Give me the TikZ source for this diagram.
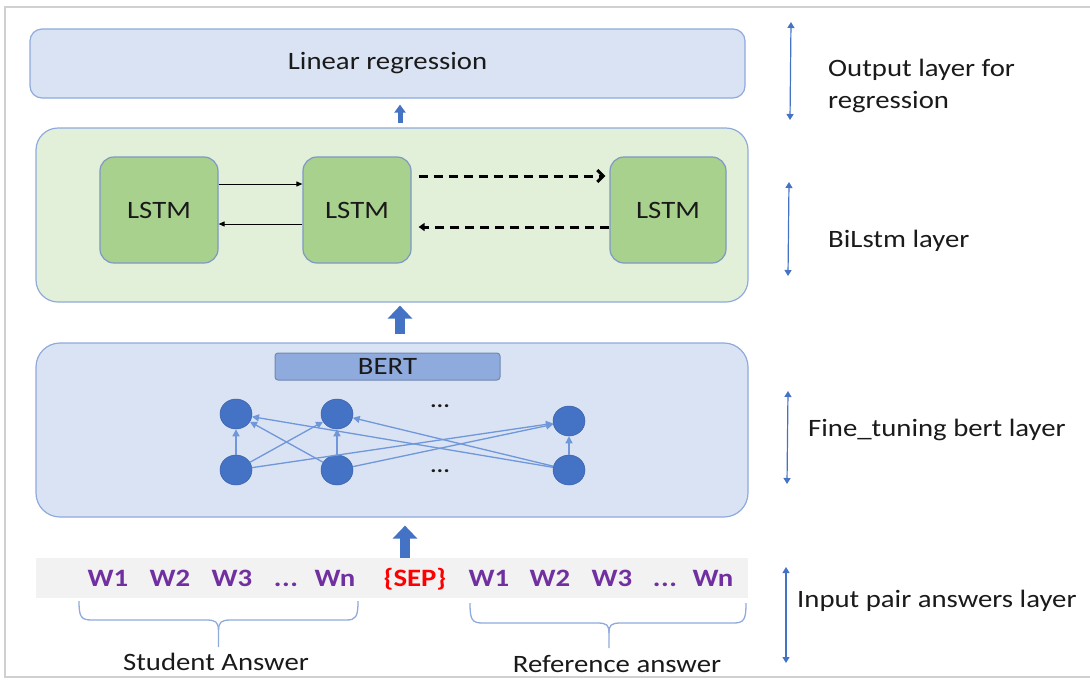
\documentclass[tikz,border=0pt]{standalone}
\usepackage{fontspec}
\setmainfont[FakeStretch=1.15]{Carlito}
\usetikzlibrary{arrows.meta,shapes.geometric}
\definecolor{lblue}{HTML}{DAE3F3}
\definecolor{bord}{HTML}{8FAADC}
\definecolor{lgreen}{HTML}{E2F0D9}
\definecolor{lstmg}{HTML}{A9D18E}
\definecolor{lstmb}{HTML}{7D99C4}
\definecolor{bertl}{HTML}{8FAADC}
\definecolor{nodeb}{HTML}{4472C4}
\definecolor{edgeb}{HTML}{6F97DA}
\definecolor{tokp}{HTML}{7030A0}
\definecolor{tokr}{HTML}{FF0000}
\definecolor{band}{HTML}{F2F2F2}
\definecolor{frame}{HTML}{D0D0D0}
\definecolor{txt}{HTML}{1A1A1A}
\newcommand{\dotsthree}{{.}\kern0.5pt{.}\kern0.5pt{.}}
\tikzset{
  layerbox/.style={draw=bord, line width=1.2pt, rounded corners=22pt, inner sep=0pt},
  lstmbox/.style={draw=lstmb, fill=lstmg, line width=1.2pt, rounded corners=14pt, minimum width=112pt, minimum height=106pt, font=\fontsize{25}{30}\selectfont, text=txt},
  neuron/.style={ellipse, fill=nodeb, draw=nodeb!85!black, line width=0.5pt, minimum width=32pt, minimum height=30pt, inner sep=0pt},
  netedge/.style={draw=edgeb, line width=1.3pt, -{Triangle[length=7pt,width=7pt]}},
  tok/.style={font=\fontsize{25}{30}\selectfont\bfseries, text=tokp, text height=17pt, text depth=5pt},
  lbl/.style={font=\fontsize{25}{30}\selectfont, text=txt},
  rlbl/.style={font=\fontsize{25}{32}\selectfont, text=txt, anchor=west, align=left, inner sep=0pt},
  bigarrow/.style={draw=nodeb, line width=10pt, -{Triangle[length=13pt,width=24pt]}},
  sidearrow/.style={draw=nodeb, line width=1.2pt, {Triangle[length=6pt,width=7pt]}-{Triangle[length=6pt,width=7pt]}},
  bracepath/.style={draw=bord, line width=1.3pt},
  dashedarrow/.style={line width=3pt, dash pattern=on 9pt off 6pt},
}
\begin{document}
\begin{tikzpicture}[x=1pt,y=-1pt]
\useasboundingbox (0,0) rectangle (1090,681);
% frame
\draw[frame, line width=2pt] (1090,7) -- (5,7) -- (5,677) -- (1090,677);

% layer boxes
\node[layerbox, fill=lblue, rounded corners=12pt, minimum width=715pt, minimum height=69pt, font=\fontsize{25}{30}\selectfont, text=txt] (lin) at (387.5,63.5) {Linear regression};
\node[layerbox, fill=lgreen, minimum width=712pt, minimum height=174pt] (green) at (392,215) {};
\node[layerbox, fill=lblue, rounded corners=24pt, minimum width=712pt, minimum height=174pt] (bertbox) at (392,430) {};

% LSTMs
\node[lstmbox, minimum width=118pt] (l1) at (159,210) {LSTM};
\node[lstmbox, minimum width=108pt] (l2) at (357,210) {LSTM};
\node[lstmbox, minimum width=116pt] (l3) at (668,210) {LSTM};
\draw[line width=1pt, -{Triangle[length=6pt,width=5pt]}] ([yshift=26pt]l1.east) -- ([yshift=26pt]l2.west);
\draw[line width=1pt, -{Triangle[length=6pt,width=5pt]}] ([yshift=-14pt]l2.west) -- ([yshift=-14pt]l1.east);
\draw[dashedarrow, -{Straight Barb[length=6pt,width=12pt]}] ([xshift=7pt,yshift=34pt]l2.east) -- ([xshift=-4pt,yshift=34pt]l3.west);
\draw[dashedarrow, -{Triangle[length=6pt,width=8pt]}] ([yshift=-17pt]l3.west) -- ([xshift=7pt,yshift=-17pt]l2.east);

% arrows between layers
\draw[draw=nodeb, line width=5pt, -{Triangle[length=8pt,width=11pt]}] ([xshift=8pt]green.north) ++(0,4pt) -- ([xshift=12.5pt,yshift=-6pt]lin.south);
\draw[bigarrow] ([xshift=8pt,yshift=8pt]bertbox.north) -- ([xshift=8pt,yshift=-3pt]green.south);

% BERT
\node[draw=bord!80!black, fill=bertl, line width=1pt, rounded corners=3pt, minimum width=225pt, minimum height=27pt, inner sep=0pt, font=\fontsize{25}{30}\selectfont, text=txt] (bertl) at (387.5,366.5) {BERT};
\node[neuron] (t1) at (236,414) {};
\node[neuron] (t2) at (337,414) {};
\node[neuron] (t3) at (569,421) {};
\node[neuron] (b1) at (236,470) {};
\node[neuron] (b2) at (337,470) {};
\node[neuron] (b3) at (569,470) {};
\node[font=\fontsize{20}{20}\selectfont\bfseries, text=txt] (d1) at (440,406) {\dotsthree};
\node[font=\fontsize{20}{20}\selectfont\bfseries, text=txt] (d2) at (440,471) {\dotsthree};
\foreach \b in {b1,b2,b3}{
  \foreach \t in {t1,t2,t3}{
    \draw[netedge] (\b) -- (\t);
  }
}

% input band
\node[fill=band, minimum width=712pt, minimum height=40pt, inner sep=0pt] (band) at (392,578) {};
\draw[bigarrow] ([xshift=13pt]band.north) -- ([xshift=13pt,yshift=-8pt]bertbox.south);
\node[tok] (a1) at (108,580) {W1};
\node[tok] (a2) at (170,580) {W2};
\node[tok] (a3) at (232,580) {W3};
\node[tok] (a4) at (286,580) {\dotsthree};
\node[tok] (a5) at (335,580) {Wn};
\node[tok, text=tokr] (sep) at (415,580) {\{SEP\}};
\node[tok] (r1) at (489,580) {W1};
\node[tok] (r2) at (550,580) {W2};
\node[tok] (r3) at (612,580) {W3};
\node[tok] (r4) at (665,580) {\dotsthree};
\node[tok] (r5) at (713,580) {Wn};

% braces
\draw[bracepath] (79,601) .. controls (79,617) and (81,620) .. (92,620) -- (206,620) .. controls (216,620) and (218,622) .. (218.5,630) -- (218.5,647);
\draw[bracepath] (218.5,630) .. controls (219,622) and (221,620) .. (231,620) -- (346,620) .. controls (356,620) and (358,617) .. (358,601);
\draw[bracepath] (470,603) .. controls (470,620) and (472,623) .. (483,623) -- (597,623) .. controls (607,623) and (609,625) .. (609,633) -- (609,648);
\draw[bracepath] (609,633) .. controls (609,625) and (611,623) .. (621,623) -- (733,623) .. controls (744,623) and (746,620) .. (746,603);
\node[lbl] (stud) at (216,662) {Student Answer};
\node[lbl] (refa) at (617,664) {Reference answer};

% side arrows and labels
\coordinate (s1a) at (791,22);  \coordinate (s1b) at (790,120);
\coordinate (s2a) at (789,182); \coordinate (s2b) at (788,276);
\coordinate (s3a) at (788,391); \coordinate (s3b) at (787,484);
\coordinate (s4a) at (786,567); \coordinate (s4b) at (786,663);
\draw[sidearrow] (s1a) -- (s1b);
\draw[sidearrow] (s2a) -- (s2b);
\draw[sidearrow] (s3a) -- (s3b);
\draw[sidearrow] (s4a) -- (s4b);
\node[rlbl] (o1) at (828,86) {Output layer for\\regression};
\node[rlbl] (o2) at (828,241) {BiLstm layer};
\node[rlbl] (o3) at (808,430) {Fine\_tuning bert layer};
\node[rlbl] (o4) at (797,601) {Input pair answers layer};
\end{tikzpicture}
\end{document}
